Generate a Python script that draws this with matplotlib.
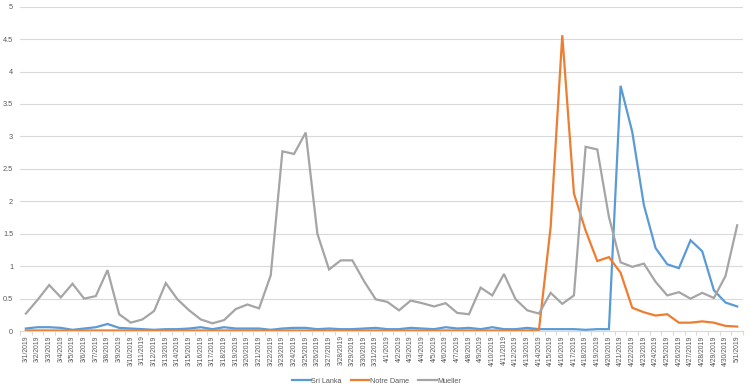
import numpy as np
import pandas as pd
import matplotlib
matplotlib.use("Agg")
import matplotlib.pyplot as plt
from matplotlib.ticker import FormatStrFormatter, MultipleLocator

# -------------------
# DATA
# -------------------
dates = pd.date_range("2019-03-01", "2019-05-01", freq="D")
date_labels = [f"{d.month}/{d.day}/{d.year}" for d in dates]

sri_lanka = [0.04, 0.06, 0.06, 0.05, 0.02, 0.04, 0.06, 0.11, 0.05, 0.04,
             0.03, 0.02, 0.03, 0.03, 0.04, 0.06, 0.03, 0.06, 0.04, 0.04,
             0.04, 0.02, 0.04, 0.05, 0.05, 0.03, 0.04, 0.03, 0.03, 0.04,
             0.05, 0.03, 0.03, 0.05, 0.04, 0.03, 0.06, 0.04, 0.05, 0.03,
             0.06, 0.03, 0.03, 0.05, 0.03, 0.03, 0.03, 0.03, 0.02, 0.03,
             0.03, 3.78, 3.07, 1.94, 1.28, 1.03, 0.97, 1.40, 1.23, 0.63,
             0.44, 0.38]

notre_dame = [0.01, 0.01, 0.01, 0.01, 0.01, 0.01, 0.01, 0.01, 0.01, 0.01,
              0.01, 0.01, 0.01, 0.01, 0.01, 0.01, 0.01, 0.01, 0.01, 0.01,
              0.01, 0.01, 0.01, 0.01, 0.01, 0.01, 0.01, 0.01, 0.01, 0.01,
              0.01, 0.01, 0.01, 0.01, 0.01, 0.01, 0.01, 0.01, 0.01, 0.01,
              0.01, 0.01, 0.01, 0.01, 0.02, 1.60, 4.56, 2.12, 1.55, 1.08,
              1.14, 0.90, 0.36, 0.29, 0.24, 0.26, 0.13, 0.13, 0.15, 0.13,
              0.08, 0.07]

mueller = [0.27, 0.48, 0.71, 0.52, 0.73, 0.50, 0.54, 0.94, 0.26, 0.13,
           0.18, 0.31, 0.74, 0.49, 0.32, 0.18, 0.12, 0.17, 0.34, 0.41,
           0.35, 0.86, 2.77, 2.73, 3.06, 1.50, 0.95, 1.09, 1.09, 0.77,
           0.49, 0.45, 0.32, 0.47, 0.43, 0.38, 0.43, 0.28, 0.26, 0.67,
           0.55, 0.88, 0.49, 0.32, 0.27, 0.59, 0.42, 0.55, 2.84, 2.80,
           1.76, 1.06, 0.99, 1.04, 0.76, 0.55, 0.60, 0.50, 0.59, 0.51,
           0.85, 1.63]

series_names = ["Sri Lanka", "Notre Dame", "Mueller"]
series_colors = ["#5B9BD5", "#ED7D31", "#A5A5A5"]

# ---------------------
# DRAW THE LINE CHART
# ---------------------
plt.rcParams["font.family"] = ["Liberation Sans", "DejaVu Sans"]

fig = plt.figure(figsize=(7.5, 3.9), dpi=100)
ax = fig.add_axes([0.0267, 0.151, 0.964, 0.832])

x = np.arange(len(date_labels))
for vals, name, col in zip([sri_lanka, notre_dame, mueller], series_names, series_colors):
    ax.plot(x, vals, color=col, linewidth=1.6, label=name, solid_joinstyle="miter")

ax.set_xlim(-0.5, len(date_labels) - 0.5)
ax.set_ylim(0, 5)
ax.yaxis.set_major_locator(MultipleLocator(0.5))
ax.yaxis.set_major_formatter(FormatStrFormatter("%g"))
ax.grid(axis="y", color="#D9D9D9", linewidth=0.8)
ax.set_axisbelow(True)

for s in ["top", "right", "left"]:
    ax.spines[s].set_visible(False)
ax.spines["bottom"].set_color("#D9D9D9")
ax.spines["bottom"].set_linewidth(0.8)

ax.set_xticks(x)
ax.set_xticklabels(date_labels, rotation=90, fontsize=4.9, color="#595959")
ax.set_xticks(np.arange(-0.5, len(date_labels), 1), minor=True)
ax.tick_params(axis="x", which="major", length=0, pad=3)
ax.tick_params(axis="x", which="minor", length=3, color="#D9D9D9", width=0.8)
ax.tick_params(axis="y", length=0, pad=5, labelsize=5.3, labelcolor="#595959")

fig.legend(loc="center", bbox_to_anchor=(0.502, 0.022), ncol=3, frameon=False,
           fontsize=5.2, handlelength=2.6, handletextpad=0.1, columnspacing=1.2,
           labelcolor="#595959")

fig.savefig("out.png", dpi=100)
plt.close(fig)
